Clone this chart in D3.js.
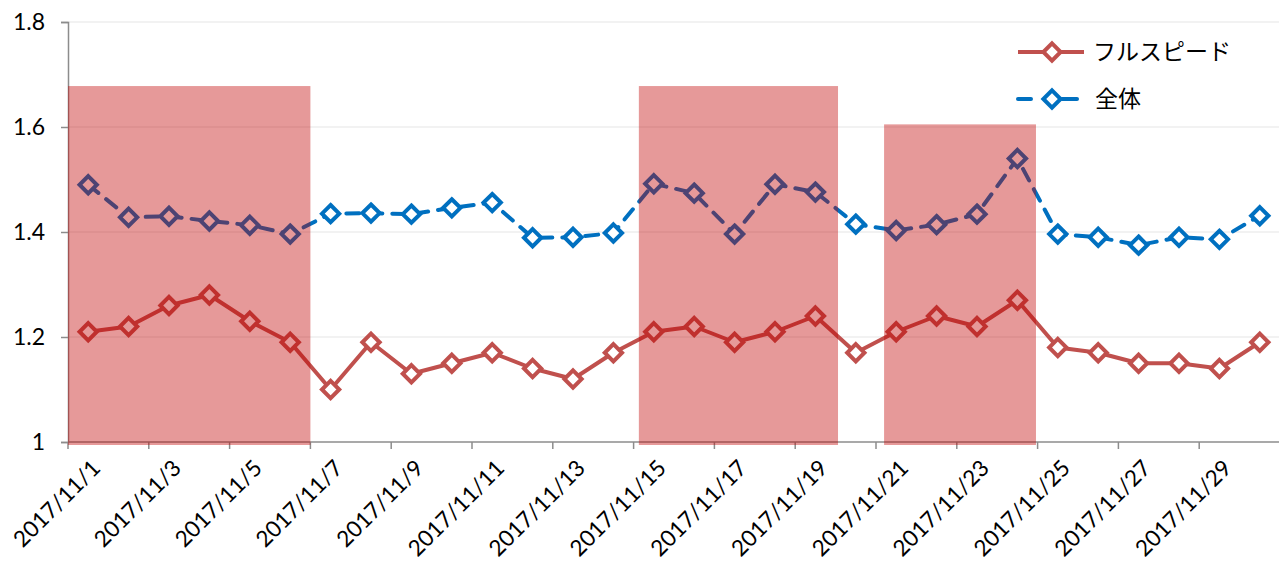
<!DOCTYPE html>
<html>
<head>
<meta charset="utf-8">
<script src="https://cdn.jsdelivr.net/npm/d3@7"></script>
<style>
  body { margin: 0; background: #fff; }
  text { font-family: Lato, "Noto Sans CJK JP", sans-serif; fill: #000; }
</style>
</head>
<body>
<div id="chart"></div>
<script>
// dates (category axis)
var dates = ["2017/11/1","2017/11/2","2017/11/3","2017/11/4","2017/11/5","2017/11/6","2017/11/7",
  "2017/11/8","2017/11/9","2017/11/10","2017/11/11","2017/11/12","2017/11/13","2017/11/14",
  "2017/11/15","2017/11/16","2017/11/17","2017/11/18","2017/11/19","2017/11/20","2017/11/21",
  "2017/11/22","2017/11/23","2017/11/24","2017/11/25","2017/11/26","2017/11/27","2017/11/28",
  "2017/11/29","2017/11/30"];

var fullSpeed = [1.21, 1.22, 1.26, 1.28, 1.23, 1.19, 1.10, 1.19, 1.13, 1.15,
  1.17, 1.14, 1.12, 1.17, 1.21, 1.22, 1.19, 1.21, 1.24, 1.17,
  1.21, 1.24, 1.22, 1.27, 1.18, 1.17, 1.15, 1.15, 1.14, 1.19];

var total = [1.49, 1.428, 1.43, 1.421, 1.413, 1.396, 1.435, 1.436, 1.434, 1.446,
  1.456, 1.389, 1.39, 1.398, 1.492, 1.474, 1.396, 1.491, 1.476, 1.415,
  1.403, 1.414, 1.434, 1.54, 1.396, 1.39, 1.375, 1.39, 1.386, 1.431];

var seriesNames = ["フルスピード", "全体"];
var yTicks = [1, 1.2, 1.4, 1.6, 1.8];

// highlighted periods (category index from/to, top value)
var shadeFrom = [0, 14.13, 20.2];
var shadeTo   = [6, 19.06, 23.96];
var shadeTop  = [1.678, 1.678, 1.605];

var W = 1279, H = 562;
var margin = {top: 22, right: -1, bottom: 120, left: 68},
    width  = W - margin.left - margin.right,
    height = H - margin.top - margin.bottom;

var svg = d3.select("#chart").append("svg")
    .attr("width", W)
    .attr("height", H)
  .append("g")
    .attr("transform", "translate(" + margin.left + "," + margin.top + ")");

var x = d3.scaleLinear().domain([0, dates.length]).range([0, width]);
var y = d3.scaleLinear().domain([1, 1.8]).range([height, 0]);

// gridlines
svg.append("g")
  .selectAll("line")
  .data(yTicks.slice(1))
  .enter().append("line")
    .attr("x1", 0).attr("x2", width)
    .attr("y1", d => y(d)).attr("y2", d => y(d))
    .attr("stroke", "#eeeeee")
    .attr("stroke-width", 1.5);

// y axis
var yAxis = svg.append("g")
  .call(d3.axisLeft(y).tickValues(yTicks).tickSize(7).tickPadding(16)
    .tickFormat(d => d === 1 ? "1" : d3.format(".1f")(d)));
yAxis.select(".domain").attr("stroke", "#8c8c8c").attr("stroke-width", 1.5);
yAxis.selectAll(".tick line").attr("stroke", "#8c8c8c").attr("stroke-width", 1.5);
yAxis.selectAll(".tick text").style("font-size", "23px").attr("fill", "#000");

// x axis: ticks on category boundaries every 2 days
var xTickIdx = d3.range(0, dates.length, 2);
var xAxis = svg.append("g")
  .attr("transform", "translate(0," + height + ")");
xAxis.append("line")
  .attr("x1", 0).attr("x2", width)
  .attr("stroke", "#8c8c8c").attr("stroke-width", 1.5);
xAxis.selectAll(".xt")
  .data(xTickIdx)
  .enter().append("line")
    .attr("class", "xt")
    .attr("x1", d => x(d)).attr("x2", d => x(d))
    .attr("y1", 0).attr("y2", 7)
    .attr("stroke", "#8c8c8c").attr("stroke-width", 1.5);
xAxis.selectAll(".xl")
  .data(xTickIdx)
  .enter().append("text")
    .attr("class", "xl")
    .attr("transform", d => "translate(" + (x(d + 0.5) + 8) + ",22)rotate(-45)")
    .attr("text-anchor", "end")
    .attr("dy", "0.35em")
    .style("font-size", "22.5px")
    .text(d => dates[d]);

// lines + markers
var line = d3.line()
  .x((d, i) => x(i + 0.5))
  .y(d => y(d));

var diamond = d3.symbol().type(d3.symbolDiamond2).size(190);

function drawSeries(values, color, dashed) {
  svg.append("path")
    .datum(values)
    .attr("d", line)
    .attr("fill", "none")
    .attr("stroke", color)
    .attr("stroke-width", 4)
    .attr("stroke-linecap", dashed ? "round" : "butt")
    .attr("stroke-linejoin", "round")
    .attr("stroke-dasharray", dashed ? "13,10" : null);

  svg.append("g")
    .selectAll("path")
    .data(values)
    .enter().append("path")
      .attr("d", diamond)
      .attr("transform", (d, i) => "translate(" + x(i + 0.5) + "," + y(d) + ")")
      .attr("fill", "#fff")
      .attr("stroke", color)
      .attr("stroke-width", 4)
      .attr("stroke-linejoin", "miter");
}

drawSeries(total, "#0070c0", true);
drawSeries(fullSpeed, "#c0504d", false);

// shaded periods on top
svg.append("g")
  .selectAll("rect")
  .data(shadeFrom)
  .enter().append("rect")
    .attr("x", (d, i) => x(d))
    .attr("width", (d, i) => x(shadeTo[i]) - x(d))
    .attr("y", (d, i) => y(shadeTop[i]))
    .attr("height", (d, i) => y(1) - y(shadeTop[i]) + 3)
    .attr("fill", "#c00000")
    .attr("opacity", 0.4);

// legend
var legend = svg.append("g")
  .attr("transform", "translate(" + (1018 - margin.left) + "," + (52 - margin.top) + ")");

var colors = ["#c0504d", "#0070c0"];
seriesNames.forEach(function(name, i) {
  var g = legend.append("g").attr("transform", "translate(0," + (i * 47) + ")");
  g.append("line")
    .attr("x1", 0).attr("x2", 66)
    .attr("stroke", colors[i])
    .attr("stroke-width", 4)
    .attr("stroke-linecap", i ? "round" : "butt")
    .attr("stroke-dasharray", i ? "13,31" : null);
  if (i) {
    g.append("line")
      .attr("x1", 46).attr("x2", 59)
      .attr("stroke", colors[i]).attr("stroke-width", 4).attr("stroke-linecap", "round");
  }
  g.append("path")
    .attr("d", diamond)
    .attr("transform", "translate(34,0)")
    .attr("fill", "#fff")
    .attr("stroke", colors[i])
    .attr("stroke-width", 4);
  g.append("text")
    .attr("x", 75 + i * 2)
    .attr("dy", "0.35em")
    .style("font-size", "23px")
    .text(name);
});
</script>
</body>
</html>
